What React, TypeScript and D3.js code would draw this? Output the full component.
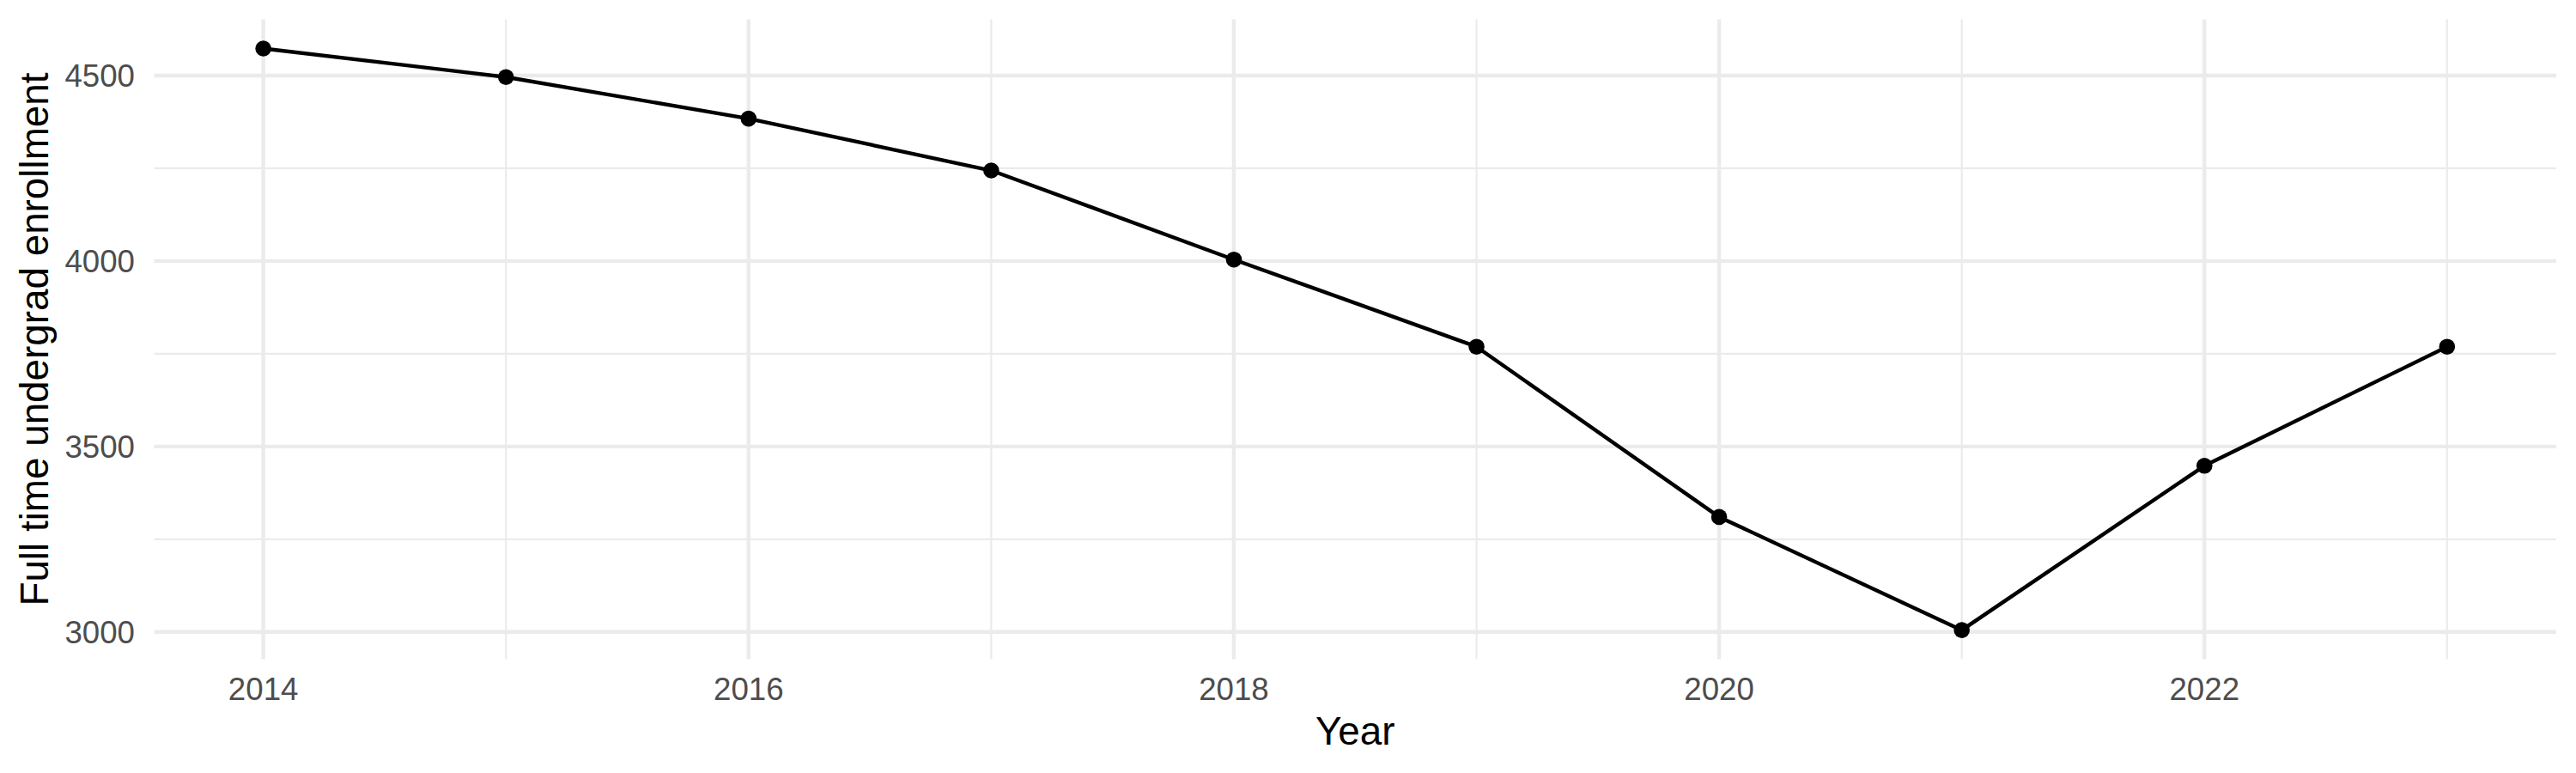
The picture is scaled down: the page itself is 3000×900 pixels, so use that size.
import * as d3 from "d3"
import { useRef, useEffect } from "react"

const years = [2014, 2015, 2016, 2017, 2018, 2019, 2020, 2021, 2022, 2023]
const enrollment = [4573, 4496, 4384, 4244, 4004, 3769, 3310, 3005, 3448, 3769]
const xTicks = [2014, 2016, 2018, 2020, 2022]
const xMinorTicks = [2015, 2017, 2019, 2021, 2023]
const yTicks = [3000, 3500, 4000, 4500]
const yMinorTicks = [3250, 3750, 4250]

const xTitle = "Year"
const yTitle = "Full time undergrad enrollment"

export default function App() {
  const svgRef = useRef<SVGSVGElement>(null)

  useEffect(() => {
    if (!svgRef.current) return
    document.body.style.margin = "0"

    const width = 3000
    const height = 900
    const margin = { top: 22.6, right: 23, bottom: 132.5, left: 179.5 }
    const font = "'Liberation Sans', Arial, Helvetica, sans-serif"

    const svg = d3.select(svgRef.current)
    svg.selectAll("*").remove()
    svg.attr("width", width).attr("height", height).attr("viewBox", `0 0 ${width} ${height}`)

    svg.append("rect").attr("width", width).attr("height", height).attr("fill", "#FFFFFF")

    // ggplot style 5% expansion on both axes
    const xExt = d3.extent(years) as [number, number]
    const xPad = (xExt[1] - xExt[0]) * 0.05
    const yExt = d3.extent(enrollment) as [number, number]
    const yPad = (yExt[1] - yExt[0]) * 0.05

    const xScale = d3
      .scaleLinear()
      .domain([xExt[0] - xPad, xExt[1] + xPad])
      .range([margin.left, width - margin.right])

    const yScale = d3
      .scaleLinear()
      .domain([yExt[0] - yPad, yExt[1] + yPad])
      .range([height - margin.bottom, margin.top])

    const grid = svg.append("g").attr("class", "grid")

    grid
      .selectAll("line.ymin")
      .data(yMinorTicks)
      .enter()
      .append("line")
      .attr("x1", margin.left)
      .attr("x2", width - margin.right)
      .attr("y1", (d) => yScale(d))
      .attr("y2", (d) => yScale(d))
      .attr("stroke", "#EBEBEB")
      .attr("stroke-width", 2.2)

    grid
      .selectAll("line.xmin")
      .data(xMinorTicks)
      .enter()
      .append("line")
      .attr("x1", (d) => xScale(d))
      .attr("x2", (d) => xScale(d))
      .attr("y1", margin.top)
      .attr("y2", height - margin.bottom)
      .attr("stroke", "#EBEBEB")
      .attr("stroke-width", 2.2)

    grid
      .selectAll("line.ymaj")
      .data(yTicks)
      .enter()
      .append("line")
      .attr("x1", margin.left)
      .attr("x2", width - margin.right)
      .attr("y1", (d) => yScale(d))
      .attr("y2", (d) => yScale(d))
      .attr("stroke", "#EBEBEB")
      .attr("stroke-width", 4.4)

    grid
      .selectAll("line.xmaj")
      .data(xTicks)
      .enter()
      .append("line")
      .attr("x1", (d) => xScale(d))
      .attr("x2", (d) => xScale(d))
      .attr("y1", margin.top)
      .attr("y2", height - margin.bottom)
      .attr("stroke", "#EBEBEB")
      .attr("stroke-width", 4.4)

    // y tick labels
    svg
      .append("g")
      .selectAll("text")
      .data(yTicks)
      .enter()
      .append("text")
      .attr("x", 157)
      .attr("y", (d) => yScale(d))
      .attr("dy", "0.36em")
      .attr("text-anchor", "end")
      .style("font-family", font)
      .style("font-size", "36.7px")
      .style("fill", "#4D4D4D")
      .text((d) => d)

    // x tick labels
    svg
      .append("g")
      .selectAll("text")
      .data(xTicks)
      .enter()
      .append("text")
      .attr("x", (d) => xScale(d))
      .attr("y", 815)
      .attr("text-anchor", "middle")
      .style("font-family", font)
      .style("font-size", "36.7px")
      .style("fill", "#4D4D4D")
      .text((d) => d)

    const points = years.map((y, i) => ({ year: y, value: enrollment[i] }))

    const line = d3
      .line<{ year: number; value: number }>()
      .x((d) => xScale(d.year))
      .y((d) => yScale(d.value))

    svg
      .append("path")
      .datum(points)
      .attr("d", line)
      .attr("fill", "none")
      .attr("stroke", "#000000")
      .attr("stroke-width", 4.4)
      .attr("stroke-linejoin", "round")

    svg
      .append("g")
      .selectAll("circle")
      .data(points)
      .enter()
      .append("circle")
      .attr("cx", (d) => xScale(d.year))
      .attr("cy", (d) => yScale(d.value))
      .attr("r", 9.3)
      .attr("fill", "#000000")

    // axis titles
    svg
      .append("text")
      .attr("x", (margin.left + width - margin.right) / 2)
      .attr("y", 866.7)
      .attr("text-anchor", "middle")
      .style("font-family", font)
      .style("font-size", "45.8px")
      .style("fill", "#000000")
      .text(xTitle)

    svg
      .append("text")
      .attr("transform", `translate(56,${(margin.top + height - margin.bottom) / 2}) rotate(-90)`)
      .attr("text-anchor", "middle")
      .style("font-family", font)
      .style("font-size", "45.8px")
      .style("fill", "#000000")
      .text(yTitle)
  }, [])

  return (
    <div>
      <svg ref={svgRef} style={{ display: "block" }}></svg>
    </div>
  )
}
